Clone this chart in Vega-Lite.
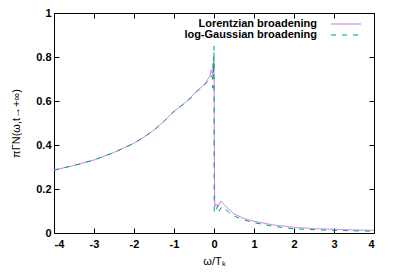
{
  "$schema": "https://vega.github.io/schema/vega-lite/v6.json",
  "width": 320,
  "height": 220,
  "autosize": {"type": "none"},
  "padding": {"left": 54, "top": 13, "right": 26, "bottom": 47},
  "background": "white",
  "config": {
    "font": "Liberation Sans",
    "view": {"stroke": "black", "strokeWidth": 1},
    "axis": {"grid": false, "domain": false, "tickColor": "black", "tickSize": -5, "labelFont": "Liberation Sans", "labelFontWeight": "bold", "labelFontSize": 11, "labelColor": "black", "titleFont": "Liberation Sans", "titleFontWeight": "normal", "titleFontSize": 11, "titleColor": "black"}
  },
  "data": {"values": [
    {"x": -4, "y": 0.286, "s": "Lorentzian broadening"},
    {"x": -3.5, "y": 0.307, "s": "Lorentzian broadening"},
    {"x": -3, "y": 0.332, "s": "Lorentzian broadening"},
    {"x": -2.5, "y": 0.366, "s": "Lorentzian broadening"},
    {"x": -2, "y": 0.408, "s": "Lorentzian broadening"},
    {"x": -1.75, "y": 0.436, "s": "Lorentzian broadening"},
    {"x": -1.5, "y": 0.468, "s": "Lorentzian broadening"},
    {"x": -1.25, "y": 0.508, "s": "Lorentzian broadening"},
    {"x": -1, "y": 0.553, "s": "Lorentzian broadening"},
    {"x": -0.75, "y": 0.588, "s": "Lorentzian broadening"},
    {"x": -0.6, "y": 0.612, "s": "Lorentzian broadening"},
    {"x": -0.5, "y": 0.633, "s": "Lorentzian broadening"},
    {"x": -0.4, "y": 0.65, "s": "Lorentzian broadening"},
    {"x": -0.3, "y": 0.665, "s": "Lorentzian broadening"},
    {"x": -0.2, "y": 0.685, "s": "Lorentzian broadening"},
    {"x": -0.1, "y": 0.715, "s": "Lorentzian broadening"},
    {"x": -0.07, "y": 0.742, "s": "Lorentzian broadening"},
    {"x": -0.04, "y": 0.722, "s": "Lorentzian broadening"},
    {"x": -0.02, "y": 0.75, "s": "Lorentzian broadening"},
    {"x": -0.01, "y": 0.8, "s": "Lorentzian broadening"},
    {"x": 0, "y": 0.78, "s": "Lorentzian broadening"},
    {"x": 0.01, "y": 0.3, "s": "Lorentzian broadening"},
    {"x": 0.02, "y": 0.12, "s": "Lorentzian broadening"},
    {"x": 0.05, "y": 0.13, "s": "Lorentzian broadening"},
    {"x": 0.1, "y": 0.12, "s": "Lorentzian broadening"},
    {"x": 0.17, "y": 0.145, "s": "Lorentzian broadening"},
    {"x": 0.3, "y": 0.12, "s": "Lorentzian broadening"},
    {"x": 0.5, "y": 0.087, "s": "Lorentzian broadening"},
    {"x": 0.75, "y": 0.066, "s": "Lorentzian broadening"},
    {"x": 1, "y": 0.053, "s": "Lorentzian broadening"},
    {"x": 1.5, "y": 0.036, "s": "Lorentzian broadening"},
    {"x": 2, "y": 0.026, "s": "Lorentzian broadening"},
    {"x": 2.5, "y": 0.02, "s": "Lorentzian broadening"},
    {"x": 3, "y": 0.017, "s": "Lorentzian broadening"},
    {"x": 3.5, "y": 0.014, "s": "Lorentzian broadening"},
    {"x": 4, "y": 0.012, "s": "Lorentzian broadening"},
    {"x": -4, "y": 0.286, "s": "log-Gaussian broadening"},
    {"x": -3.5, "y": 0.307, "s": "log-Gaussian broadening"},
    {"x": -3, "y": 0.332, "s": "log-Gaussian broadening"},
    {"x": -2.5, "y": 0.366, "s": "log-Gaussian broadening"},
    {"x": -2, "y": 0.408, "s": "log-Gaussian broadening"},
    {"x": -1.75, "y": 0.436, "s": "log-Gaussian broadening"},
    {"x": -1.5, "y": 0.468, "s": "log-Gaussian broadening"},
    {"x": -1.25, "y": 0.508, "s": "log-Gaussian broadening"},
    {"x": -1, "y": 0.553, "s": "log-Gaussian broadening"},
    {"x": -0.75, "y": 0.588, "s": "log-Gaussian broadening"},
    {"x": -0.6, "y": 0.61, "s": "log-Gaussian broadening"},
    {"x": -0.5, "y": 0.63, "s": "log-Gaussian broadening"},
    {"x": -0.4, "y": 0.648, "s": "log-Gaussian broadening"},
    {"x": -0.3, "y": 0.662, "s": "log-Gaussian broadening"},
    {"x": -0.2, "y": 0.68, "s": "log-Gaussian broadening"},
    {"x": -0.1, "y": 0.705, "s": "log-Gaussian broadening"},
    {"x": -0.07, "y": 0.715, "s": "log-Gaussian broadening"},
    {"x": -0.04, "y": 0.705, "s": "log-Gaussian broadening"},
    {"x": -0.03, "y": 0.66, "s": "log-Gaussian broadening"},
    {"x": -0.02, "y": 0.78, "s": "log-Gaussian broadening"},
    {"x": -0.01, "y": 0.72, "s": "log-Gaussian broadening"},
    {"x": 0, "y": 0.85, "s": "log-Gaussian broadening"},
    {"x": 0.005, "y": 0.1, "s": "log-Gaussian broadening"},
    {"x": 0.02, "y": 0.09, "s": "log-Gaussian broadening"},
    {"x": 0.05, "y": 0.1, "s": "log-Gaussian broadening"},
    {"x": 0.1, "y": 0.13, "s": "log-Gaussian broadening"},
    {"x": 0.13, "y": 0.1, "s": "log-Gaussian broadening"},
    {"x": 0.2, "y": 0.12, "s": "log-Gaussian broadening"},
    {"x": 0.3, "y": 0.105, "s": "log-Gaussian broadening"},
    {"x": 0.5, "y": 0.077, "s": "log-Gaussian broadening"},
    {"x": 0.75, "y": 0.06, "s": "log-Gaussian broadening"},
    {"x": 1, "y": 0.047, "s": "log-Gaussian broadening"},
    {"x": 1.5, "y": 0.03, "s": "log-Gaussian broadening"},
    {"x": 2, "y": 0.019, "s": "log-Gaussian broadening"},
    {"x": 2.5, "y": 0.015, "s": "log-Gaussian broadening"},
    {"x": 3, "y": 0.012, "s": "log-Gaussian broadening"},
    {"x": 3.5, "y": 0.01, "s": "log-Gaussian broadening"},
    {"x": 4, "y": 0.008, "s": "log-Gaussian broadening"}
  ]},
  "layer": [
    {
      "mark": {"type": "line", "strokeWidth": 1, "clip": true},
      "encoding": {
        "x": {"field": "x", "type": "quantitative", "scale": {"domain": [-4, 4], "nice": false}, "axis": {"orient": "bottom", "values": [-4, -3, -2, -1, 0, 1, 2, 3, 4], "labelExpr": "'' + datum.value", "labelFontWeight": "bold", "labelFontSize": 11, "title": "ω/Tₖ", "labelPadding": 10, "titlePadding": 6}},
        "y": {"field": "y", "type": "quantitative", "scale": {"domain": [0, 1], "nice": false}, "axis": {"orient": "left", "values": [0, 0.2, 0.4, 0.6, 0.8, 1], "labelExpr": "'' + datum.value", "labelFontWeight": "bold", "labelFontSize": 11, "title": "πΓN(ω,t→+∞)", "labelPadding": 8, "titlePadding": 14}},
        "color": {"field": "s", "type": "nominal", "scale": {"domain": ["Lorentzian broadening", "log-Gaussian broadening"], "range": ["#c078f0", "#009e73"]}, "legend": {"title": null, "orient": "none", "legendX": 286, "legendY": 5, "padding": 0, "labelAlign": "right", "labelOffset": -35, "symbolOffset": 0, "labelFontWeight": "bold", "labelFontSize": 11, "labelColor": "black", "labelFont": "Liberation Sans", "symbolType": "M-3,0H3", "symbolSize": 100, "symbolStrokeWidth": 1.2, "symbolFillColor": "transparent", "rowPadding": -1.5, "labelLimit": 300}},
        "strokeDash": {"field": "s", "type": "nominal", "scale": {"domain": ["Lorentzian broadening", "log-Gaussian broadening"], "range": [[1, 0], [5, 6]]}, "legend": {"title": null}}
      }
    },
    {
      "mark": {"type": "line", "strokeWidth": 0, "opacity": 0},
      "encoding": {
        "x": {"field": "x", "type": "quantitative", "scale": {"domain": [-4, 4], "nice": false}, "axis": {"orient": "top", "values": [-4, -3, -2, -1, 0, 1, 2, 3, 4], "labels": false, "title": null}},
        "y": {"field": "y", "type": "quantitative", "scale": {"domain": [0, 1], "nice": false}, "axis": {"orient": "right", "values": [0, 0.2, 0.4, 0.6, 0.8, 1], "labels": false, "title": null}}
      }
    }
  ],
  "resolve": {"axis": {"x": "independent", "y": "independent"}}
}
